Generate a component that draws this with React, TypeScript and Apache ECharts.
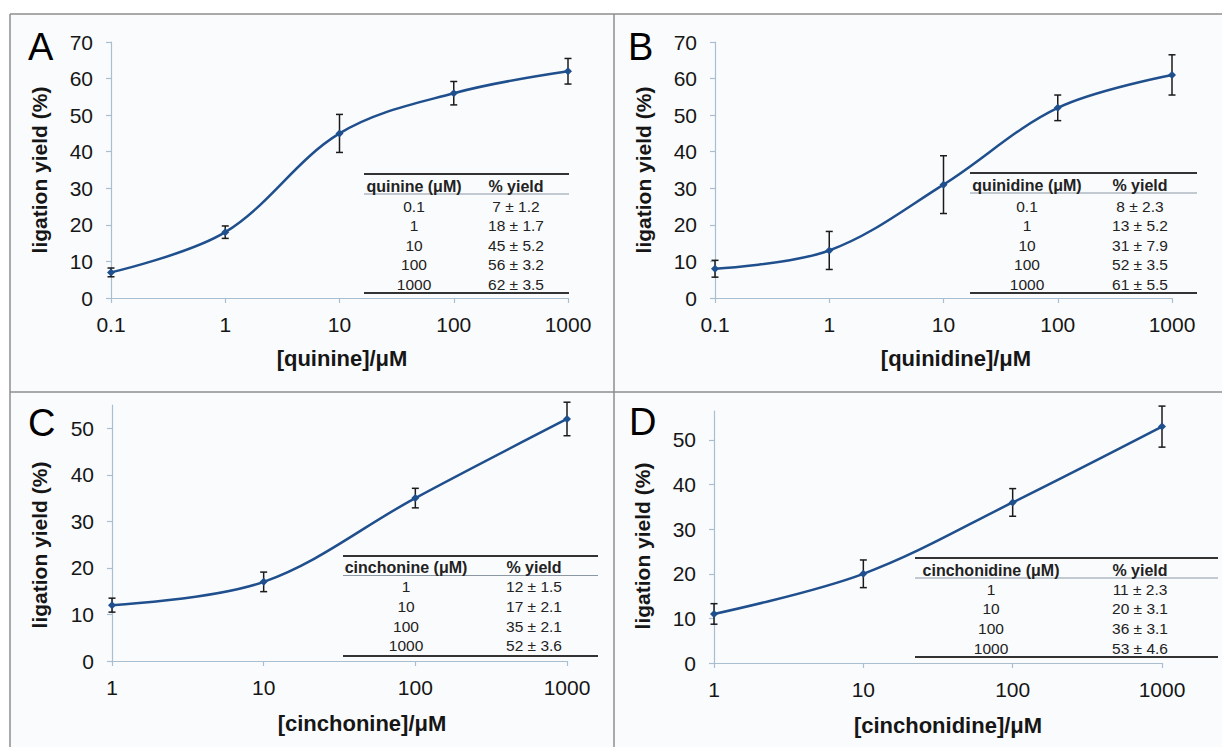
import React, { useEffect, useRef } from "react";
import * as echarts from "echarts";

// ---------------- data ----------------
const concAB = [0.1, 1, 10, 100, 1000];
const concCD = [1, 10, 100, 1000];
const yieldA = [7, 18, 45, 56, 62];
const errA = [1.2, 1.7, 5.2, 3.2, 3.5];
const yieldB = [8, 13, 31, 52, 61];
const errB = [2.3, 5.2, 7.9, 3.5, 5.5];
const yieldC = [12, 17, 35, 52];
const errC = [1.5, 2.1, 2.1, 3.6];
const yieldD = [11, 20, 36, 53];
const errD = [2.3, 3.1, 3.1, 4.6];
const compounds = ["quinine", "quinidine", "cinchonine", "cinchonidine"];
const panelLetters = ["A", "B", "C", "D"];
const yTicksAB = [0, 10, 20, 30, 40, 50, 60, 70];
const yTicksCD = [0, 10, 20, 30, 40, 50];
const yMax = [70, 70, 55, 56.5];
const xMin = [0.1, 0.1, 1, 1];
const xMax = [1000, 1000, 1000, 1000];
const yTitle = "ligation yield (%)";
const yieldHeader = "% yield";

const panelData = [
  { conc: concAB, y: yieldA, e: errA, ticks: yTicksAB },
  { conc: concAB, y: yieldB, e: errB, ticks: yTicksAB },
  { conc: concCD, y: yieldC, e: errC, ticks: yTicksCD },
  { conc: concCD, y: yieldD, e: errD, ticks: yTicksCD },
];

// ---------------- layout ----------------
const FONT = "'Liberation Sans', Arial, Helvetica, sans-serif";
const LINE_COLOR = "#1f4f8d";
const AXIS_COLOR = "#a9bfcf";
const TEXT_COLOR = "#161616";

const layout = [
  {
    grid: { left: 111, top: 42, width: 457, height: 256 },
    letter: { x: 28, y: 46.8 },
    xTitle: { x: 342, y: 358 },
    yTitleC: { x: 39, y: 170 },
    table: { x1: 364, x2: 569, top: 174, header: 186, hline: 194, row0: 206, step: 19.5, bottom: 293, c1: 414, c2: 516 },
  },
  {
    grid: { left: 715, top: 42, width: 457, height: 256 },
    letter: { x: 628, y: 46.8 },
    xTitle: { x: 956, y: 358 },
    yTitleC: { x: 643, y: 170 },
    table: { x1: 970, x2: 1197, top: 173, header: 185, hline: 193, row0: 206, step: 19.5, bottom: 293, c1: 1027, c2: 1140 },
  },
  {
    grid: { left: 112, top: 405, width: 455, height: 256 },
    letter: { x: 28, y: 422.8 },
    xTitle: { x: 362, y: 723 },
    yTitleC: { x: 39, y: 545 },
    table: { x1: 343, x2: 598, top: 556, header: 567.5, hline: 575.5, row0: 586.5, step: 19.8, bottom: 656, c1: 406, c2: 534 },
  },
  {
    grid: { left: 714, top: 411, width: 448, height: 252 },
    letter: { x: 629, y: 421.8 },
    xTitle: { x: 948, y: 725 },
    yTitleC: { x: 642, y: 546 },
    table: { x1: 915, x2: 1218, top: 558, header: 570, hline: 578, row0: 589, step: 19.7, bottom: 657, c1: 991, c2: 1140 },
  },
];

const fmtNum = (v: number) => String(Number(Number(v).toPrecision(6)));

function buildOption() {
  const grids: any[] = [];
  const xAxes: any[] = [];
  const yAxes: any[] = [];
  const series: any[] = [];
  const graphics: any[] = [];

  // white outside strips + panel frame
  graphics.push({ type: "rect", shape: { x: 0, y: 0, width: 1222, height: 14 }, style: { fill: "#ffffff" }, silent: true });
  graphics.push({ type: "rect", shape: { x: 0, y: 0, width: 10, height: 747 }, style: { fill: "#ffffff" }, silent: true });
  const frameStyle = { stroke: "#8e8e8e", lineWidth: 1.5 };
  graphics.push({ type: "line", shape: { x1: 10, y1: 14, x2: 1222, y2: 14 }, style: frameStyle, silent: true });
  graphics.push({ type: "line", shape: { x1: 10, y1: 14, x2: 10, y2: 747 }, style: frameStyle, silent: true });
  graphics.push({ type: "line", shape: { x1: 614, y1: 14, x2: 614, y2: 747 }, style: frameStyle, silent: true });
  graphics.push({ type: "line", shape: { x1: 10, y1: 392, x2: 1222, y2: 392 }, style: frameStyle, silent: true });

  panelData.forEach((pd, i) => {
    const L = layout[i];
    grids.push({ ...L.grid, containLabel: false });
    xAxes.push({
      type: "log",
      logBase: 10,
      gridIndex: i,
      min: xMin[i],
      max: xMax[i],
      axisLine: { show: true, lineStyle: { color: AXIS_COLOR, width: 1.2 } },
      axisTick: { show: true, length: 5, lineStyle: { color: AXIS_COLOR, width: 1.2 } },
      minorTick: { show: false },
      splitLine: { show: false },
      axisLabel: {
        margin: 16,
        fontSize: 21,
        fontFamily: FONT,
        color: TEXT_COLOR,
        formatter: (v: number) => fmtNum(v),
      },
    });
    yAxes.push({
      type: "value",
      gridIndex: i,
      min: 0,
      max: yMax[i],
      interval: 10,
      axisLine: { show: true, lineStyle: { color: AXIS_COLOR, width: 1.2 } },
      axisTick: { show: true, length: 5, customValues: pd.ticks, lineStyle: { color: AXIS_COLOR, width: 1.2 } },
      splitLine: { show: false },
      axisLabel: {
        margin: 18,
        fontSize: 21,
        fontFamily: FONT,
        color: TEXT_COLOR,
        customValues: pd.ticks,
      },
    });

    // error bars
    series.push({
      type: "custom",
      xAxisIndex: i,
      yAxisIndex: i,
      z: 3,
      silent: true,
      encode: { x: 0, y: 1 },
      data: pd.conc.map((c, k) => [c, pd.y[k], pd.e[k]]),
      renderItem: (_params: any, api: any) => {
        const x = api.value(0);
        const y = api.value(1);
        const e = api.value(2);
        const top = api.coord([x, y + e]);
        const bot = api.coord([x, y - e]);
        const hw = 3.5;
        const style = { stroke: "#1b1b1b", lineWidth: 1.5 };
        return {
          type: "group",
          children: [
            { type: "line", shape: { x1: top[0], y1: top[1], x2: bot[0], y2: bot[1] }, style },
            { type: "line", shape: { x1: top[0] - hw, y1: top[1], x2: top[0] + hw, y2: top[1] }, style },
            { type: "line", shape: { x1: bot[0] - hw, y1: bot[1], x2: bot[0] + hw, y2: bot[1] }, style },
          ],
        };
      },
    });

    // smoothed line + markers
    series.push({
      type: "line",
      xAxisIndex: i,
      yAxisIndex: i,
      z: 4,
      smooth: 0.35,
      symbol: "diamond",
      symbolSize: 8,
      showSymbol: true,
      lineStyle: { color: LINE_COLOR, width: 2.5 },
      itemStyle: { color: LINE_COLOR },
      data: pd.conc.map((c, k) => [c, pd.y[k]]),
    });

    // panel letter
    graphics.push({
      type: "text",
      x: L.letter.x,
      y: L.letter.y,
      silent: true,
      style: { text: panelLetters[i], fontSize: 38, fontFamily: FONT, fill: "#000", textAlign: "left", textVerticalAlign: "middle" },
    });
    // x title
    graphics.push({
      type: "text",
      x: L.xTitle.x,
      y: L.xTitle.y,
      silent: true,
      style: { text: `[${compounds[i]}]/μM`, fontSize: 22, fontWeight: "bold", fontFamily: FONT, fill: TEXT_COLOR, textAlign: "center", textVerticalAlign: "middle" },
    });
    // y title
    graphics.push({
      type: "text",
      x: L.yTitleC.x,
      y: L.yTitleC.y,
      rotation: Math.PI / 2,
      silent: true,
      style: { text: yTitle, fontSize: 21, fontWeight: "bold", fontFamily: FONT, fill: TEXT_COLOR, textAlign: "center", textVerticalAlign: "middle" },
    });

    // table
    const T = L.table;
    graphics.push({ type: "line", silent: true, shape: { x1: T.x1, y1: T.top, x2: T.x2, y2: T.top }, style: { stroke: "#333", lineWidth: 2 } });
    graphics.push({ type: "line", silent: true, shape: { x1: T.x1, y1: T.hline, x2: T.x2, y2: T.hline }, style: { stroke: "#8a98a6", lineWidth: 1.2 } });
    graphics.push({ type: "line", silent: true, shape: { x1: T.x1, y1: T.bottom, x2: T.x2, y2: T.bottom }, style: { stroke: "#333", lineWidth: 2 } });
    const headStyle = { fontSize: 16, fontWeight: "bold", fontFamily: FONT, fill: "#222", textAlign: "center", textVerticalAlign: "middle" };
    graphics.push({ type: "text", silent: true, x: T.c1, y: T.header, style: { ...headStyle, text: `${compounds[i]} (μM)` } });
    graphics.push({ type: "text", silent: true, x: T.c2, y: T.header, style: { ...headStyle, text: yieldHeader } });
    const rowStyle = { fontSize: 15.5, fontFamily: FONT, fill: "#222", textAlign: "center", textVerticalAlign: "middle" };
    pd.conc.forEach((c, k) => {
      const ry = T.row0 + k * T.step;
      graphics.push({ type: "text", silent: true, x: T.c1, y: ry, style: { ...rowStyle, text: fmtNum(c) } });
      graphics.push({ type: "text", silent: true, x: T.c2, y: ry, style: { ...rowStyle, text: `${pd.y[k]} ± ${pd.e[k].toFixed(1)}` } });
    });
  });

  return {
    animation: false,
    backgroundColor: "#fafbfd",
    grid: grids,
    xAxis: xAxes,
    yAxis: yAxes,
    series,
    graphic: { elements: graphics },
  };
}

export default function App() {
  const ref = useRef<HTMLDivElement>(null);
  useEffect(() => {
    document.body.style.margin = "0";
    if (!ref.current) return;
    const chart = echarts.init(ref.current, null, { renderer: "svg" });
    chart.setOption(buildOption() as any);
    return () => chart.dispose();
  }, []);
  return <div ref={ref} style={{ width: 1222, height: 747 }} />;
}
